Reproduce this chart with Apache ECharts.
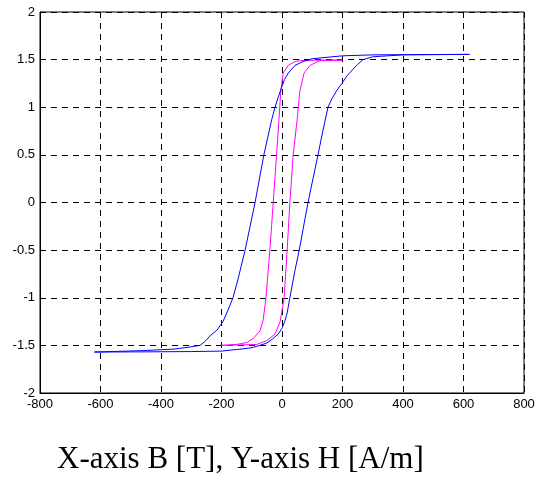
<!DOCTYPE html>
<html>
<head>
<meta charset="utf-8">
<script src="https://cdn.jsdelivr.net/npm/echarts@6/dist/echarts.min.js"></script>
<style>
html,body{margin:0;padding:0;background:#fff;}
#chart{width:543px;height:484px;}
</style>
</head>
<body>
<div id="chart"></div>
<script>
// Outer (blue) loop: descending branch then ascending branch
var blueH = [620, 450, 300, 200, 100, 70, 43, 21, 8, -1, -12, -23, -34, -60, -89, -122, -145, -162, -180, -195, -215, -238, -255, -271, -310, -360, -469, -620,
             -620, -450, -300, -200, -139, -100, -73, -50, -30, -12, 0, 9, 17, 26, 43, 57, 86, 119, 135, 152, 165, 180, 198, 215, 235, 250, 268, 300, 400, 620];
var blueB = [1.555, 1.553, 1.55, 1.54, 1.51, 1.48, 1.44, 1.36, 1.29, 1.21, 1.11, 1.0, 0.87, 0.5, 0, -0.5, -0.8, -1.0, -1.14, -1.25, -1.34, -1.4, -1.46, -1.5, -1.52, -1.54, -1.556, -1.57,
             -1.57, -1.568, -1.565, -1.56, -1.54, -1.525, -1.5, -1.475, -1.43, -1.38, -1.32, -1.25, -1.16, -1.0, -0.71, -0.5, 0, 0.5, 0.75, 1.0, 1.09, 1.17, 1.25, 1.33, 1.4, 1.45, 1.5, 1.53, 1.55, 1.555];
// Inner (magenta) loop
var magH = [200, 126, 60, 43, 21, 4, -4, -10, -18, -29, -40, -53, -62, -73, -96, -116, -150, -200,
            -200, -83, -50, -23, -6, 7, 17, 26, 37, 50, 59, 73, 93, 126, 200];
var magB = [1.495, 1.495, 1.49, 1.48, 1.44, 1.36, 1.17, 0.87, 0.5, 0, -0.5, -1.0, -1.23, -1.35, -1.43, -1.47, -1.49, -1.5,
            -1.5, -1.49, -1.45, -1.38, -1.25, -1.0, -0.5, 0, 0.5, 0.87, 1.17, 1.36, 1.44, 1.49, 1.495];
var xTicks = [-800, -600, -400, -200, 0, 200, 400, 600, 800];
var yTicks = [-2, -1.5, -1, -0.5, 0, 0.5, 1, 1.5, 2];
var caption = 'X-axis B [T], Y-axis H [A/m]';

function pairs(xs, ys) { return xs.map(function (x, i) { return [x, ys[i]]; }); }

var chart = echarts.init(document.getElementById('chart'), null, {renderer: 'canvas'});
var gridLine = {show: true, lineStyle: {color: '#000', type: [6, 5], width: 1}};
chart.setOption({
  animation: false,
  grid: {left: 40, right: 19, top: 12, bottom: 91, show: true, borderColor: '#000', borderWidth: 1, containLabel: false},
  xAxis: {
    type: 'value', min: xTicks[0], max: xTicks[xTicks.length - 1], interval: 200,
    axisLine: {show: true, onZero: false, lineStyle: {color: '#000'}},
    axisTick: {show: false},
    axisLabel: {color: '#000', fontFamily: 'Liberation Sans', fontSize: 13, margin: 5},
    splitLine: gridLine
  },
  yAxis: {
    type: 'value', min: yTicks[0], max: yTicks[yTicks.length - 1], interval: 0.5,
    axisLine: {show: true, onZero: false, lineStyle: {color: '#000'}},
    axisTick: {show: false},
    axisLabel: {color: '#000', fontFamily: 'Liberation Sans', fontSize: 13, margin: 5},
    splitLine: gridLine
  },
  series: [
    {type: 'line', data: pairs(blueH, blueB), symbol: 'none', lineStyle: {color: '#0000ff', width: 1}, z: 3},
    {type: 'line', data: pairs(magH, magB), symbol: 'none', lineStyle: {color: '#ff00ff', width: 1}, z: 2}
  ],
  graphic: [{
    type: 'text', left: 57, top: 444,
    style: {text: caption, font: '31px "Liberation Serif"', fill: '#000'}
  }]
});
</script>
</body>
</html>
